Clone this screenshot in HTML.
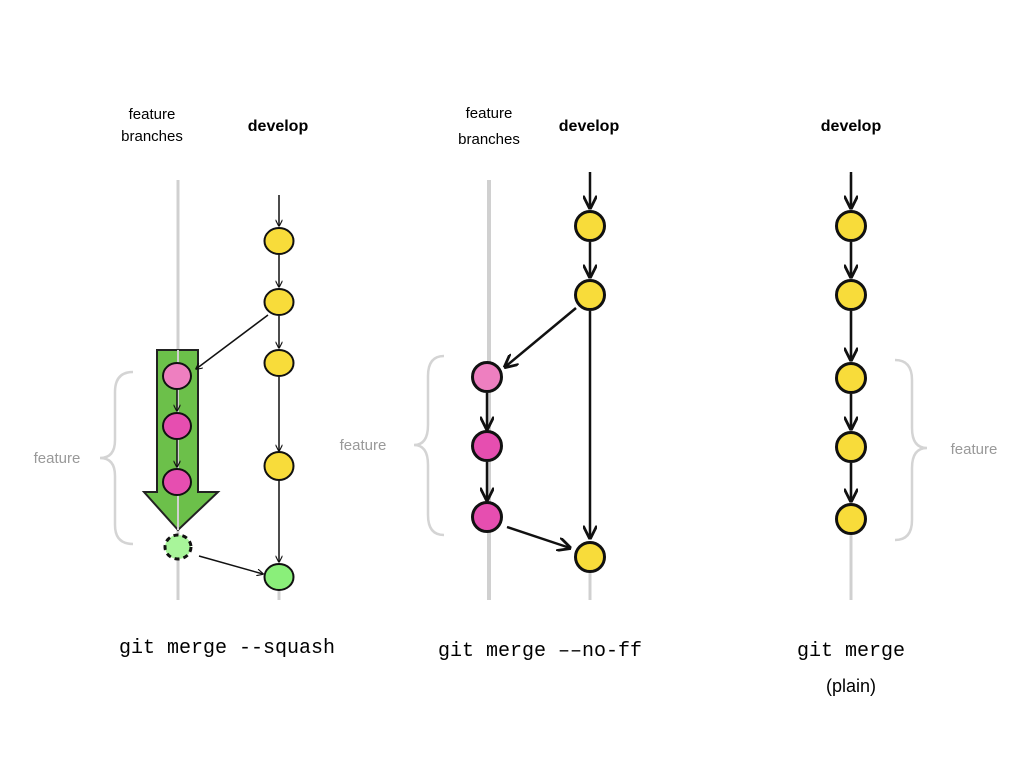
<!DOCTYPE html>
<html><head><meta charset="utf-8"><style>html,body{margin:0;padding:0;background:#fff}svg{display:block}</style></head><body>
<svg width="1024" height="768" viewBox="0 0 1024 768" xmlns="http://www.w3.org/2000/svg">
<defs>
<marker id="a" viewBox="0 0 10 10" refX="9" refY="5" markerWidth="7" markerHeight="7" orient="auto" markerUnits="userSpaceOnUse"><path d="M0,0 L10,5 L0,10" fill="none" stroke="#111" stroke-width="1.6"/></marker>
<marker id="b" viewBox="0 0 10 10" refX="9" refY="5" markerWidth="14" markerHeight="14" orient="auto" markerUnits="userSpaceOnUse"><path d="M0,0 L10,5 L0,10" fill="none" stroke="#111" stroke-width="2"/></marker>
</defs>
<g font-family="Liberation Sans, sans-serif" text-anchor="middle">
<text x="152" y="119" font-size="15">feature</text>
<text x="152" y="141" font-size="15">branches</text>
<text x="278" y="131" font-size="16" font-weight="bold">develop</text>
<text x="489" y="118" font-size="15">feature</text>
<text x="489" y="144" font-size="15">branches</text>
<text x="589" y="131" font-size="16" font-weight="bold">develop</text>
<text x="851" y="131" font-size="16" font-weight="bold">develop</text>
<text x="57" y="463" font-size="15" fill="#999">feature</text>
<text x="363" y="450" font-size="15" fill="#999">feature</text>
<text x="974" y="454" font-size="15" fill="#999">feature</text>
<text x="851" y="692" font-size="18">(plain)</text>
</g>
<g font-family="Liberation Mono, monospace" font-size="20" text-anchor="middle">
<text x="227" y="653">git merge --squash</text>
<text x="540" y="656">git merge ––no-ff</text>
<text x="851" y="656">git merge</text>
</g>
<!-- gray lines -->
<g stroke="#d0d0d0" fill="none">
<line x1="178" y1="180" x2="178" y2="600" stroke-width="3"/>
<line x1="489" y1="180" x2="489" y2="600" stroke-width="4"/>
<line x1="851" y1="175" x2="851" y2="600" stroke-width="3"/>
<line x1="590" y1="570" x2="590" y2="600" stroke-width="3"/>
<line x1="279" y1="590" x2="279" y2="600" stroke-width="3"/>
</g>
<!-- braces -->
<g stroke="#d4d4d4" stroke-width="2.5" fill="none">
<path d="M133,372 Q115,372 115,392 L115,440 Q115,458 100,458 Q115,458 115,476 L115,525 Q115,544 133,544"/>
<path d="M444,356 Q428,356 428,376 L428,425 Q428,445 414,445 Q428,445 428,465 L428,515 Q428,535 444,535"/>
<path d="M895,360 Q912,360 912,380 L912,428 Q912,448 927,448 Q912,448 912,468 L912,520 Q912,540 895,540"/>
</g>
<!-- Panel 1 -->
<polygon points="157,350 198,350 198,492 218,492 178,530 144,492 157,492" fill="#6cc04a" stroke="#222" stroke-width="2"/>
<line x1="178" y1="350" x2="178" y2="530" stroke="#d0d0d0" stroke-width="2"/>
<g stroke="#111" stroke-width="1.5" fill="none">
<line x1="279" y1="195" x2="279" y2="226" marker-end="url(#a)"/>
<line x1="279" y1="255" x2="279" y2="287" marker-end="url(#a)"/>
<line x1="279" y1="316" x2="279" y2="348" marker-end="url(#a)"/>
<line x1="279" y1="377" x2="279" y2="451" marker-end="url(#a)"/>
<line x1="279" y1="480" x2="279" y2="562" marker-end="url(#a)"/>
<line x1="268" y1="315" x2="196" y2="369" marker-end="url(#a)"/>
<line x1="177" y1="390" x2="177" y2="411" marker-end="url(#a)"/>
<line x1="177" y1="440" x2="177" y2="467" marker-end="url(#a)"/>
<line x1="199" y1="556" x2="263" y2="574" marker-end="url(#a)"/>
</g>
<g stroke="#111" stroke-width="2">
<ellipse cx="279" cy="241" rx="14.5" ry="13" fill="#f8dc3a"/>
<ellipse cx="279" cy="302" rx="14.5" ry="13" fill="#f8dc3a"/>
<ellipse cx="279" cy="363" rx="14.5" ry="13" fill="#f8dc3a"/>
<ellipse cx="279" cy="466" rx="14.5" ry="14" fill="#f8dc3a"/>
<ellipse cx="279" cy="577" rx="14.5" ry="13" fill="#8aef7a"/>
<ellipse cx="177" cy="376" rx="14" ry="13" fill="#ee7fc0"/>
<ellipse cx="177" cy="426" rx="14" ry="13" fill="#e64eb0"/>
<ellipse cx="177" cy="482" rx="14" ry="13" fill="#e64eb0"/>
<ellipse cx="178" cy="547" rx="13" ry="12" fill="#a8f59a" stroke-dasharray="5,4" stroke-width="3"/>
</g>
<!-- Panel 2 -->
<g stroke="#111" stroke-width="2.5" fill="none">
<line x1="590" y1="172" x2="590" y2="208" marker-end="url(#b)"/>
<line x1="590" y1="242" x2="590" y2="277" marker-end="url(#b)"/>
<line x1="590" y1="311" x2="590" y2="538" marker-end="url(#b)"/>
<line x1="576" y1="308" x2="505" y2="367" marker-end="url(#b)"/>
<line x1="487" y1="393" x2="487" y2="429" marker-end="url(#b)"/>
<line x1="487" y1="462" x2="487" y2="500" marker-end="url(#b)"/>
<line x1="507" y1="527" x2="570" y2="548" marker-end="url(#b)"/>
</g>
<g stroke="#111" stroke-width="3">
<circle cx="590" cy="226" r="14.5" fill="#f8dc3a"/>
<circle cx="590" cy="295" r="14.5" fill="#f8dc3a"/>
<circle cx="590" cy="557" r="14.5" fill="#f8dc3a"/>
<circle cx="487" cy="377" r="14.5" fill="#ee7fc0"/>
<circle cx="487" cy="446" r="14.5" fill="#e64eb0"/>
<circle cx="487" cy="517" r="14.5" fill="#e64eb0"/>
</g>
<!-- Panel 3 -->
<g stroke="#111" stroke-width="2.5" fill="none">
<line x1="851" y1="172" x2="851" y2="208" marker-end="url(#b)"/>
<line x1="851" y1="242" x2="851" y2="277" marker-end="url(#b)"/>
<line x1="851" y1="311" x2="851" y2="360" marker-end="url(#b)"/>
<line x1="851" y1="394" x2="851" y2="429" marker-end="url(#b)"/>
<line x1="851" y1="463" x2="851" y2="501" marker-end="url(#b)"/>
</g>
<g stroke="#111" stroke-width="3" fill="#f8dc3a">
<circle cx="851" cy="226" r="14.5"/>
<circle cx="851" cy="295" r="14.5"/>
<circle cx="851" cy="378" r="14.5"/>
<circle cx="851" cy="447" r="14.5"/>
<circle cx="851" cy="519" r="14.5"/>
</g>
</svg>
</body></html>
